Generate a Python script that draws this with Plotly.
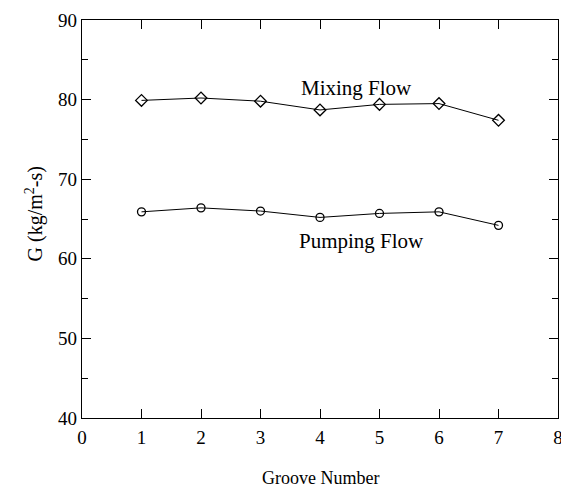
import plotly.graph_objects as go

groove = [1, 2, 3, 4, 5, 6, 7]
mixing_flow = [79.9, 80.2, 79.8, 78.7, 79.4, 79.5, 77.4]
pumping_flow = [65.9, 66.4, 66.0, 65.2, 65.7, 65.9, 64.2]

x_ticks = [0, 1, 2, 3, 4, 5, 6, 7, 8]
y_ticks = [40, 50, 60, 70, 80, 90]

font_family = "Liberation Serif, Times New Roman, serif"

fig = go.Figure()
fig.add_trace(go.Scatter(
    x=groove, y=mixing_flow, mode="lines+markers", name="Mixing Flow",
    line=dict(color="black", width=1),
    marker=dict(symbol="diamond-open", size=9, color="black", line=dict(width=1.3)),
))
fig.add_trace(go.Scatter(
    x=groove, y=pumping_flow, mode="lines+markers", name="Pumping Flow",
    line=dict(color="black", width=1),
    marker=dict(symbol="circle-open", size=8, color="black", line=dict(width=1.3)),
))

fig.add_annotation(x=4.62, y=81.5, text="Mixing Flow", showarrow=False,
                   font=dict(family=font_family, size=21, color="black"))
fig.add_annotation(x=4.7, y=62.2, text="Pumping Flow", showarrow=False,
                   font=dict(family=font_family, size=21, color="black"))
fig.add_annotation(x=-0.130, xref="paper", y=0.513, yref="paper",
                   text="G (kg/m<sup>2</sup>-s)", textangle=-90, showarrow=False,
                   font=dict(family=font_family, size=20, color="black"))
fig.add_annotation(x=0.5, xref="paper", y=-0.15, yref="paper", yanchor="middle",
                   text="Groove Number", showarrow=False,
                   font=dict(family=font_family, size=18, color="black"))

# page body has an 8px default margin, so the figure is sized/offset to compensate
fig.update_layout(
    width=561, height=481,
    margin=dict(l=74, r=11, t=12, b=71),
    paper_bgcolor="white", plot_bgcolor="white",
    showlegend=False,
    font=dict(family=font_family, size=19, color="black"),
)
fig.update_xaxes(
    range=[0, 8], tickvals=x_ticks, ticks="inside", ticklen=9, tickwidth=1,
    tickcolor="black", showline=True, linecolor="black", linewidth=1.2,
    mirror="ticks", showgrid=False, zeroline=False, automargin=False,
    tickfont=dict(family=font_family, size=19), ticklabelstandoff=2,
)
fig.update_yaxes(
    range=[40, 90], tickvals=y_ticks, ticks="inside", ticklen=9, tickwidth=1,
    tickcolor="black", showline=True, linecolor="black", linewidth=1.2,
    mirror="ticks", showgrid=False, zeroline=False, automargin=False,
    tickfont=dict(family=font_family, size=19),
    minor=dict(ticks="inside", dtick=5, ticklen=6, tickcolor="black", showgrid=False),
)

fig.write_html("out.html")
